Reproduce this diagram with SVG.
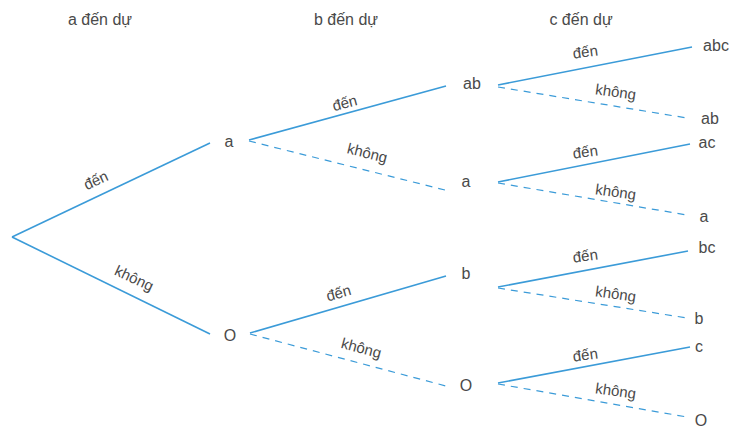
<svg xmlns="http://www.w3.org/2000/svg" width="736" height="430" viewBox="0 0 736 430">
<style>
.t{font-family:"Liberation Sans",Arial,sans-serif;font-size:16px;fill:#4a4a4a;text-anchor:middle}
.l{font-family:"Liberation Sans",Arial,sans-serif;font-size:15px;fill:#4a4a4a;text-anchor:middle}
.s{stroke:#3b9bd8;stroke-width:1.6;fill:none}
.d{stroke:#3b9bd8;stroke-width:1.2;fill:none;stroke-dasharray:7 6}
</style>
<rect width="736" height="430" fill="#fff"/>
<g id="headers">
<text class="t" x="100" y="25">a đến dự</text>
<text class="t" x="346" y="25">b đến dự</text>
<text class="t" x="581" y="25">c đến dự</text>
</g>
<g id="connectors">
<line class="s" x1="12" y1="237" x2="210" y2="143"/>
<line class="s" x1="12" y1="237" x2="210" y2="334"/>
<line class="s" x1="249" y1="140" x2="446" y2="86"/>
<line class="d" x1="249" y1="141" x2="445" y2="190"/>
<line class="s" x1="250" y1="333" x2="446" y2="276"/>
<line class="d" x1="250" y1="334" x2="446" y2="386"/>
<line class="s" x1="498" y1="85" x2="692" y2="47"/>
<line class="d" x1="498" y1="87" x2="687" y2="118"/>
<line class="s" x1="498" y1="182" x2="690" y2="144"/>
<line class="d" x1="498" y1="183" x2="687" y2="215"/>
<line class="s" x1="498" y1="287" x2="688" y2="251"/>
<line class="d" x1="498" y1="288" x2="687" y2="318"/>
<line class="s" x1="498" y1="383" x2="690" y2="347"/>
<line class="d" x1="498" y1="384" x2="687" y2="417"/>
</g>
<g id="edge-labels">
<text class="l" transform="translate(98,185) rotate(-25)">đến</text>
<text class="l" transform="translate(132,283) rotate(25)">không</text>
<text class="l" transform="translate(346,108) rotate(-15)">đến</text>
<text class="l" transform="translate(366,158) rotate(14)">không</text>
<text class="l" transform="translate(340,298) rotate(-16)">đến</text>
<text class="l" transform="translate(360,353) rotate(15)">không</text>
<text class="l" transform="translate(586,57) rotate(-8)">đến</text>
<text class="l" transform="translate(615,97) rotate(8)">không</text>
<text class="l" transform="translate(586,157) rotate(-8)">đến</text>
<text class="l" transform="translate(615,197) rotate(8)">không</text>
<text class="l" transform="translate(586,261) rotate(-8)">đến</text>
<text class="l" transform="translate(615,299) rotate(8)">không</text>
<text class="l" transform="translate(586,360) rotate(-8)">đến</text>
<text class="l" transform="translate(615,396) rotate(8)">không</text>
</g>
<g id="n-a1"><text class="t" x="229" y="147">a</text></g>
<g id="n-o1"><text class="t" x="230" y="341">O</text></g>
<g id="n-ab2"><text class="t" x="472" y="89">ab</text></g>
<g id="n-a2"><text class="t" x="466" y="187">a</text></g>
<g id="n-b2"><text class="t" x="466" y="279">b</text></g>
<g id="n-o2"><text class="t" x="466" y="391">O</text></g>
<g id="n-abc"><text class="t" x="716" y="51">abc</text></g>
<g id="n-ab3"><text class="t" x="710" y="124">ab</text></g>
<g id="n-ac"><text class="t" x="707" y="148">ac</text></g>
<g id="n-a3"><text class="t" x="704" y="222">a</text></g>
<g id="n-bc"><text class="t" x="707" y="253">bc</text></g>
<g id="n-b3"><text class="t" x="699" y="324">b</text></g>
<g id="n-c"><text class="t" x="699" y="352">c</text></g>
<g id="n-o3"><text class="t" x="701" y="426">O</text></g>
</svg>
